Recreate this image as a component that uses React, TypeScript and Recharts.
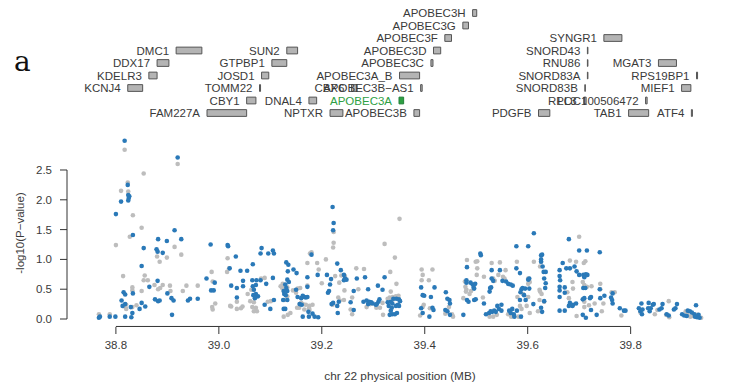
import { ScatterChart, Scatter, XAxis, YAxis, ReferenceArea, ReferenceLine } from 'recharts';

// regional association plot, chr22 ~38.8-39.9 MB, with gene track on top

const BLUE = '#2a79b8';
const GRAY = '#bdbdbd';
const GENE_FILL = '#b4b4b4';
const GENE_STROKE = '#555555';
const GREEN = '#2ea043';
const TEXT = '#3a3a3a';
const FONT = '"Liberation Sans", Arial, sans-serif';

const X_TICKS = [38.8, 39.0, 39.2, 39.4, 39.6, 39.8];
const Y_TICKS = [0, 0.5, 1.0, 1.5, 2.0, 2.5];

// [position MB, -log10 p]
const bluePoints: [number, number][] = [
  [38.817, 2.99], [38.920, 2.71], [38.823, 2.25], [38.824, 2.08], [38.826, 2.06], [38.825, 2.03],
  [38.824, 1.99], [38.810, 1.97], [38.800, 1.76], [38.833, 1.41], [38.914, 1.49], [38.882, 1.34],
  [38.899, 1.31], [38.927, 1.34], [38.854, 1.19], [38.879, 1.17], [38.881, 1.13], [38.891, 1.11],
  [38.850, 0.89], [38.984, 1.25], [38.881, 0.64], [38.865, 0.54], [38.815, 0.45], [38.833, 0.43],
  [38.900, 0.43], [38.818, 0.41], [38.811, 0.31], [38.850, 0.27], [38.876, 0.33], [38.882, 0.30],
  [38.885, 0.31], [38.908, 0.35], [38.912, 0.31], [38.944, 0.34], [38.940, 0.31], [38.959, 0.34],
  [38.818, 0.25], [38.813, 0.22], [38.829, 0.20], [38.857, 0.21], [38.846, 0.17], [38.818, 0.04],
  [38.830, 0.03], [38.799, 0.04], [38.788, 0.04], [38.769, 0.04], [38.767, 0.02], [38.909, 0.07],
  [38.832, 0.10], [38.985, 0.48], [38.990, 0.48], [38.976, 0.68], [38.992, 0.61], [39.017, 1.24],
  [39.018, 1.22], [39.033, 1.05], [39.083, 1.19], [39.081, 1.10], [39.096, 1.10], [39.105, 1.15],
  [39.107, 1.10], [39.066, 0.92], [39.021, 0.85], [39.042, 0.81], [39.055, 0.81], [39.024, 0.56],
  [39.047, 0.64], [39.047, 0.55], [39.035, 0.52], [39.035, 0.36], [39.065, 0.65], [39.073, 0.65],
  [39.081, 0.65], [39.066, 0.55], [39.072, 0.57], [39.068, 0.49], [39.072, 0.42], [39.067, 0.40],
  [39.076, 0.38], [39.070, 0.35], [39.105, 0.69], [39.092, 0.59], [39.100, 0.17], [39.089, 0.24],
  [39.107, 0.32], [39.131, 0.95], [39.135, 0.91], [39.145, 0.83], [39.151, 0.77], [39.134, 0.80],
  [39.133, 0.66], [39.136, 0.62], [39.129, 0.58], [39.131, 0.52], [39.133, 0.47], [39.126, 0.47],
  [39.127, 0.42], [39.130, 0.40], [39.125, 0.32], [39.133, 0.32], [39.126, 0.17], [39.129, 0.17],
  [39.150, 0.49], [39.153, 0.37], [39.160, 0.35], [39.163, 0.39], [39.166, 0.37], [39.169, 0.36],
  [39.172, 0.37], [39.157, 0.25], [39.161, 0.24], [39.180, 1.08], [39.172, 0.70], [39.172, 0.54],
  [39.192, 0.74], [39.210, 0.74], [39.218, 0.67], [39.216, 0.58], [39.214, 0.47], [39.212, 0.44],
  [39.219, 0.25], [39.163, 0.04], [39.174, 0.12], [39.175, 0.04], [39.182, 0.09], [39.186, 0.04],
  [39.193, 0.03], [39.221, 1.88], [39.223, 1.61], [39.222, 1.49], [39.230, 0.93], [39.237, 0.82],
  [39.243, 0.74], [39.245, 0.68], [39.248, 0.66], [39.243, 0.65], [39.262, 0.47], [39.268, 0.68],
  [39.284, 0.70], [39.290, 0.50], [39.233, 0.29], [39.222, 0.27], [39.230, 0.22], [39.256, 0.28],
  [39.262, 0.15], [39.231, 0.10], [39.281, 0.29], [39.287, 0.31], [39.292, 0.29], [39.296, 0.28],
  [39.299, 0.26], [39.290, 0.25], [39.294, 0.27], [39.310, 0.29], [39.312, 0.33], [39.307, 0.25],
  [39.305, 0.24], [39.309, 0.56], [39.318, 0.49], [39.322, 0.70], [39.328, 0.28], [39.334, 0.29],
  [39.337, 0.26], [39.339, 0.34], [39.345, 0.34], [39.350, 0.33], [39.352, 0.30], [39.330, 0.22],
  [39.336, 0.19], [39.344, 0.22], [39.350, 0.22], [39.334, 0.14], [39.337, 0.08], [39.332, 0.07],
  [39.342, 0.08], [39.346, 0.10], [39.348, 0.24], [39.393, 0.53], [39.419, 0.53], [39.396, 0.40],
  [39.399, 0.39], [39.412, 0.37], [39.393, 0.18], [39.396, 0.10], [39.409, 0.04], [39.415, 0.19],
  [39.417, 0.15], [39.441, 0.45], [39.444, 0.34], [39.448, 0.32], [39.449, 0.26], [39.440, 0.15],
  [39.444, 0.13], [39.449, 0.07], [39.475, 0.07], [39.481, 0.65], [39.481, 0.61], [39.482, 0.32],
  [39.485, 0.29], [39.482, 0.87], [39.508, 1.10], [39.509, 1.07], [39.489, 0.61], [39.493, 0.58],
  [39.498, 0.59], [39.495, 0.53], [39.496, 0.51], [39.496, 0.32], [39.499, 0.33], [39.515, 0.26],
  [39.530, 0.82], [39.530, 0.68], [39.533, 0.64], [39.527, 0.52], [39.526, 0.46], [39.529, 0.53],
  [39.546, 0.82], [39.551, 0.64], [39.558, 0.63], [39.562, 0.59], [39.567, 0.58], [39.571, 0.56],
  [39.519, 0.08], [39.525, 0.10], [39.528, 0.13], [39.531, 0.12], [39.535, 0.14], [39.538, 0.12],
  [39.541, 0.22], [39.544, 0.17], [39.549, 0.24], [39.549, 0.14], [39.564, 0.14], [39.570, 0.17],
  [39.573, 0.08], [39.579, 0.14], [39.578, 1.22], [39.601, 1.22], [39.612, 1.44], [39.578, 0.85],
  [39.585, 0.77], [39.601, 0.66], [39.603, 0.68], [39.588, 0.50], [39.586, 0.45], [39.585, 0.32],
  [39.590, 0.52], [39.595, 0.51], [39.603, 0.51], [39.593, 0.40], [39.596, 0.32], [39.611, 0.25],
  [39.587, 0.04], [39.574, 0.04], [39.567, 0.10], [39.626, 1.07], [39.628, 1.08], [39.626, 1.00],
  [39.626, 0.96], [39.629, 0.88], [39.631, 0.79], [39.635, 0.79], [39.632, 0.68], [39.635, 0.60],
  [39.634, 0.52], [39.626, 0.19], [39.632, 0.30], [39.628, 0.12], [39.662, 0.82], [39.662, 0.72],
  [39.663, 0.65], [39.662, 0.54], [39.662, 0.48], [39.662, 0.37], [39.668, 0.94], [39.672, 0.53],
  [39.672, 0.44], [39.675, 0.85], [39.680, 1.34], [39.662, 0.14], [39.672, 0.14], [39.680, 0.22],
  [39.700, 1.15], [39.715, 1.15], [39.740, 1.12], [39.682, 0.85], [39.691, 0.88], [39.695, 0.80],
  [39.700, 0.74], [39.708, 0.74], [39.713, 0.75], [39.710, 0.70], [39.716, 0.74], [39.708, 0.52],
  [39.712, 0.52], [39.740, 0.50], [39.682, 0.27], [39.694, 0.26], [39.688, 0.24], [39.687, 0.22],
  [39.707, 0.33], [39.710, 0.35], [39.723, 0.37], [39.721, 0.35], [39.741, 0.35], [39.749, 0.39],
  [39.762, 0.36], [39.765, 0.43], [39.764, 0.32], [39.707, 0.07], [39.713, 0.02], [39.723, 0.15],
  [39.734, 0.07], [39.765, 0.26], [39.779, 0.18], [39.787, 0.14], [39.790, 0.14], [39.821, 0.26],
  [39.816, 0.18], [39.819, 0.13], [39.823, 0.16], [39.822, 0.08], [39.835, 0.27], [39.843, 0.24],
  [39.839, 0.18], [39.834, 0.18], [39.837, 0.13], [39.845, 0.25], [39.862, 0.25], [39.860, 0.18],
  [39.856, 0.16], [39.870, 0.08], [39.874, 0.06], [39.890, 0.25], [39.887, 0.18], [39.884, 0.16],
  [39.900, 0.08], [39.904, 0.06], [39.909, 0.05], [39.911, 0.14], [39.915, 0.13], [39.919, 0.11],
  [39.924, 0.08], [39.927, 0.23], [39.929, 0.03], [39.932, 0.07], [39.934, 0.02], [39.925, 0.04],
];

const grayPoints: [number, number][] = [
  [38.817, 2.84], [38.920, 2.60], [38.854, 2.44], [38.823, 2.29], [38.810, 2.15], [38.824, 2.14],
  [38.833, 1.74], [38.850, 1.53], [38.827, 1.38], [38.800, 1.24], [38.914, 1.21], [38.927, 1.08],
  [38.880, 1.05], [38.899, 1.03], [38.885, 0.96], [38.814, 0.72], [38.856, 0.73], [38.854, 0.65],
  [38.862, 0.65], [38.875, 0.57], [38.891, 0.57], [38.886, 0.52], [38.882, 0.50], [38.905, 0.56],
  [38.937, 0.56], [38.959, 0.56], [38.832, 0.53], [38.850, 0.47], [38.832, 0.48], [38.906, 0.47],
  [38.930, 0.47], [38.820, 0.24], [38.840, 0.23], [38.817, 0.21], [38.832, 0.20], [38.820, 0.17],
  [38.767, 0.08], [38.788, 0.08], [38.986, 0.79], [38.988, 0.63], [38.987, 0.20], [39.016, 0.79],
  [39.020, 0.85], [38.993, 0.26], [38.988, 0.16], [39.022, 0.22], [39.024, 0.21], [39.035, 0.29],
  [39.046, 0.21], [39.043, 0.18], [39.035, 0.17], [39.017, 1.02], [39.063, 0.49], [39.056, 0.42],
  [39.061, 0.30], [39.068, 0.28], [39.065, 0.20], [39.072, 0.19], [39.068, 0.13], [39.074, 0.13],
  [39.082, 0.68], [39.089, 0.69], [39.095, 0.29], [39.101, 0.30], [39.124, 0.59], [39.129, 0.56],
  [39.123, 0.52], [39.133, 0.53], [39.120, 0.55], [39.126, 0.47], [39.133, 0.38], [39.128, 0.32],
  [39.139, 0.10], [39.126, 0.04], [39.134, 0.07], [39.144, 0.48], [39.153, 0.51], [39.158, 0.52],
  [39.150, 0.44], [39.157, 0.25], [39.152, 0.19], [39.172, 0.94], [39.180, 1.12], [39.177, 1.10],
  [39.191, 0.94], [39.208, 1.00], [39.172, 0.56], [39.194, 0.83], [39.200, 0.60], [39.163, 0.25],
  [39.169, 0.24], [39.176, 0.22], [39.182, 0.24], [39.175, 0.18], [39.166, 0.16], [39.176, 0.15],
  [39.160, 0.27], [39.156, 0.19], [39.223, 1.46], [39.223, 1.28], [39.222, 1.20], [39.226, 0.72],
  [39.238, 0.73], [39.245, 0.72], [39.234, 0.61], [39.244, 0.48], [39.267, 0.85], [39.282, 0.84],
  [39.271, 0.50], [39.259, 0.36], [39.232, 0.36], [39.243, 0.32], [39.235, 0.31], [39.221, 0.24],
  [39.256, 0.16], [39.259, 0.08], [39.287, 0.20], [39.306, 0.19], [39.294, 0.25], [39.318, 0.27],
  [39.322, 1.26], [39.342, 1.03], [39.333, 0.79], [39.345, 0.59], [39.334, 0.46], [39.351, 1.68],
  [39.332, 0.36], [39.338, 0.37], [39.344, 0.38], [39.349, 0.39], [39.339, 0.33], [39.328, 0.34],
  [39.319, 0.07], [39.313, 0.19], [39.394, 0.83], [39.396, 0.74], [39.415, 0.83], [39.394, 0.65],
  [39.408, 0.65], [39.398, 0.24], [39.410, 0.18], [39.396, 0.20], [39.391, 0.06], [39.447, 0.20],
  [39.455, 0.04], [39.440, 0.09], [39.453, 0.08], [39.475, 0.35], [39.481, 0.49], [39.480, 0.46],
  [39.479, 0.54], [39.478, 0.63], [39.482, 0.99], [39.499, 0.96], [39.502, 0.97], [39.502, 0.85],
  [39.501, 0.74], [39.490, 0.47], [39.487, 0.42], [39.515, 0.71], [39.513, 0.36], [39.530, 0.94],
  [39.546, 0.95], [39.533, 0.68], [39.536, 0.64], [39.543, 0.74], [39.557, 0.82], [39.552, 0.71],
  [39.555, 0.68], [39.526, 0.04], [39.533, 0.04], [39.540, 0.07], [39.562, 0.08], [39.568, 0.04],
  [39.579, 0.96], [39.601, 0.68], [39.604, 0.62], [39.601, 0.59], [39.580, 0.37], [39.591, 0.42],
  [39.601, 0.37], [39.585, 0.22], [39.588, 0.17], [39.598, 0.22], [39.604, 0.10], [39.620, 0.13],
  [39.582, 0.04], [39.612, 0.96], [39.626, 0.96], [39.624, 0.88], [39.623, 0.49], [39.624, 0.46],
  [39.627, 0.42], [39.623, 0.32], [39.632, 0.29], [39.680, 0.35], [39.677, 0.45], [39.700, 1.38],
  [39.682, 0.98], [39.694, 0.96], [39.712, 0.97], [39.709, 0.94], [39.707, 0.62], [39.710, 0.57],
  [39.715, 0.54], [39.712, 0.53], [39.687, 0.62], [39.688, 0.51], [39.741, 0.59], [39.724, 0.55],
  [39.741, 0.50], [39.710, 0.29], [39.710, 0.20], [39.719, 0.23], [39.730, 0.26], [39.763, 0.45],
  [39.769, 0.45], [39.695, 0.05], [39.744, 0.13], [39.747, 0.26], [39.782, 0.06], [39.819, 0.11],
  [39.852, 0.15], [39.847, 0.08], [39.874, 0.30], [39.869, 0.07], [39.875, 0.03], [39.907, 0.13],
  [39.910, 0.07], [39.916, 0.04], [39.924, 0.05], [39.920, 0.05], [39.930, 0.07], [39.937, 0.02],
];

// gene name, start MB, end MB, track row (0 = top)
const genes: [string, number, number, number][] = [
  ['APOBEC3H', 39.493, 39.501, 0],
  ['APOBEC3G', 39.474, 39.485, 1],
  ['APOBEC3F', 39.439, 39.452, 2],
  ['SYNGR1', 39.748, 39.783, 2],
  ['DMC1', 38.917, 38.967, 3],
  ['SUN2', 39.132, 39.153, 3],
  ['APOBEC3D', 39.417, 39.431, 3],
  ['SNORD43', 39.716, 39.717, 3],
  ['DDX17', 38.880, 38.903, 4],
  ['GTPBP1', 39.103, 39.132, 4],
  ['APOBEC3C', 39.412, 39.416, 4],
  ['RNU86', 39.716, 39.717, 4],
  ['MGAT3', 39.854, 39.889, 4],
  ['KDELR3', 38.864, 38.880, 5],
  ['JOSD1', 39.083, 39.097, 5],
  ['APOBEC3A_B', 39.351, 39.390, 5],
  ['SNORD83A', 39.716, 39.717, 5],
  ['RPS19BP1', 39.928, 39.930, 5],
  ['KCNJ4', 38.823, 38.852, 6],
  ['TOMM22', 39.079, 39.081, 6],
  ['CBX6', 39.2576, 39.2683, 6],
  ['APOBEC3B\u2212AS1', 39.392, 39.395, 6],
  ['SNORD83B', 39.711, 39.712, 6],
  ['MIEF1', 39.899, 39.917, 6],
  ['CBY1', 39.054, 39.072, 7],
  ['DNAL4', 39.175, 39.190, 7],
  ['APOBEC3A', 39.350, 39.359, 7],
  ['RPL3', 39.7089, 39.7136, 7],
  ['LOC100506472', 39.829, 39.832, 7],
  ['FAM227A', 38.977, 39.054, 8],
  ['NPTXR', 39.216, 39.241, 8],
  ['APOBEC3B', 39.379, 39.390, 8],
  ['PDGFB', 39.621, 39.643, 8],
  ['TAB1', 39.796, 39.835, 8],
  ['ATF4', 39.918, 39.920, 8],
];

const HIGHLIGHT = 'APOBEC3A';

const blueData = bluePoints.map(([x, y]) => ({ x, y }));
const grayData = grayPoints.map(([x, y]) => ({ x, y }));

const dot = (color: string) => (p: any) => <circle cx={p.cx} cy={p.cy} r={2.3} fill={color} />;

export default function App() {
  return (
    <div style={{ position: 'absolute', left: 0, top: 0, width: 733, height: 389, background: '#fff' }}>
      <ScatterChart width={733} height={389} margin={{ top: 0, right: 20, bottom: 0, left: 0 }}>
        <XAxis
          type="number"
          dataKey="x"
          domain={[38.705, 39.96]}
          allowDataOverflow
          ticks={X_TICKS}
          tickFormatter={(v: number) => v.toFixed(1)}
          axisLine={false}
          tickLine={{ stroke: '#333' }}
          tickSize={7}
          tickMargin={7}
          height={62}
          tick={{ fill: TEXT, fontSize: 11.5, fontFamily: FONT }}
        />
        <YAxis
          yAxisId="p"
          type="number"
          dataKey="y"
          domain={[-0.134, 5.352]}
          allowDataOverflow
          ticks={Y_TICKS}
          tickFormatter={(v: number) => v.toFixed(1)}
          axisLine={false}
          tickLine={{ stroke: '#333' }}
          tickSize={7}
          tickMargin={8}
          width={67}
          tick={{ fill: TEXT, fontSize: 11.5, fontFamily: FONT }}
        />
        <YAxis
          yAxisId="g"
          type="number"
          orientation="right"
          width={0}
          hide
          reversed
          domain={[-1.04, 25.12]}
          allowDataOverflow
        />

        <ReferenceLine
          yAxisId="p"
          segment={[{ x: 38.8, y: -0.125 }, { x: 39.8, y: -0.125 }]}
          stroke="#333"
          ifOverflow="visible"
        />
        <ReferenceLine
          yAxisId="p"
          segment={[{ x: 38.705, y: 0 }, { x: 38.705, y: 2.5 }]}
          stroke="#333"
          ifOverflow="visible"
        />

        {genes.map(([name, start, end, row]) => {
          const hl = name === HIGHLIGHT;
          return (
            <ReferenceArea
              key={name}
              yAxisId="g"
              x1={start}
              x2={end}
              y1={row - 0.27}
              y2={row + 0.27}
              fill={hl ? GREEN : GENE_FILL}
              fillOpacity={1}
              stroke={hl ? '#23803a' : GENE_STROKE}
              strokeWidth={1}
              ifOverflow="visible"
              label={{
                value: name,
                position: 'left',
                offset: 7,
                fill: hl ? GREEN : TEXT,
                fontSize: 11.5,
                fontFamily: FONT,
              }}
            />
          );
        })}

        <Scatter yAxisId="p" data={grayData} isAnimationActive={false} shape={dot(GRAY)} />
        <Scatter yAxisId="p" data={blueData} isAnimationActive={false} shape={dot(BLUE)} />
      </ScatterChart>

      <svg width={733} height={389} style={{ position: 'absolute', left: 0, top: 0, pointerEvents: 'none' }}>
        <text x={14} y={71} fontFamily='"DejaVu Serif", "Liberation Serif", serif' fontSize={28} fill="#111">
          a
        </text>
        <text
          x={0}
          y={0}
          transform="translate(20,233) rotate(-90)"
          textAnchor="middle"
          dominantBaseline="central"
          fontFamily={FONT}
          fontSize={11.5}
          fill={TEXT}
        >
          -log10(P{'\u2212'}value)
        </text>
        <text x={400} y={380} textAnchor="middle" fontFamily={FONT} fontSize={11.8} fill={TEXT}>
          chr 22 physical position (MB)
        </text>
      </svg>
    </div>
  );
}
